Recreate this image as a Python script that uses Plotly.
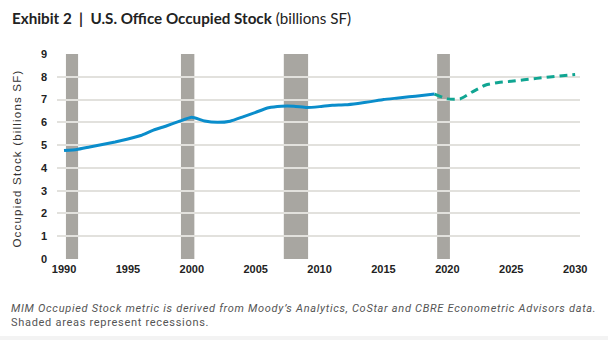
import plotly.graph_objects as go

# Data
hist_years = list(range(1990, 2020))
hist_values = [4.76, 4.81, 4.92, 5.03, 5.14, 5.27, 5.42, 5.66, 5.84, 6.04,
               6.22, 6.06, 6.00, 6.05, 6.24, 6.44, 6.64, 6.71, 6.71, 6.65,
               6.69, 6.75, 6.77, 6.83, 6.91, 7.00, 7.06, 7.12, 7.18, 7.24]
fcst_years = list(range(2019, 2031))
fcst_values = [7.24, 7.03, 7.03, 7.35, 7.64, 7.75, 7.80, 7.87, 7.93, 7.99, 8.05, 8.10]
recession_start = [1990.15, 1999.15, 2007.2, 2019.2]
recession_end = [1991.1, 2000.2, 2009.1, 2020.2]
recession_top = 9
x_ticks = [1990, 1995, 2000, 2005, 2010, 2015, 2020, 2025, 2030]
y_ticks = list(range(0, 10))

fig = go.Figure()

# recession bars
for s, e in zip(recession_start, recession_end):
    fig.add_shape(type="rect", xref="x", yref="y", x0=s, x1=e, y0=0, y1=recession_top,
                  fillcolor="#a8a6a1", line=dict(width=0), layer="below")

fig.add_trace(go.Scatter(x=hist_years, y=hist_values, mode="lines",
                         line=dict(color="#0a8dcb", width=3, shape="spline", smoothing=0.4),
                         showlegend=False, hoverinfo="skip"))
fig.add_trace(go.Scatter(x=fcst_years, y=fcst_values, mode="lines",
                         line=dict(color="#10a592", width=3, dash="8px,5px", shape="spline", smoothing=0.5),
                         showlegend=False, hoverinfo="skip"))

fig.update_layout(
    width=608, height=340,
    margin=dict(l=57, r=28, t=54, b=81),
    paper_bgcolor="white", plot_bgcolor="white",
    font=dict(family="Liberation Sans, Arial, sans-serif", color="#222"),
    xaxis=dict(range=[1989.45, 2030.38], tickvals=x_ticks, ticktext=[f"<b>{t}</b>" for t in x_ticks],
               showgrid=False, zeroline=False, showline=False, ticks="",
               tickfont=dict(size=11, color="#222", family="Liberation Sans, Arial"),
               ticklabelstandoff=2),
    yaxis=dict(range=[0, 9], tickvals=y_ticks, ticktext=[f"<b>{t}</b>" for t in y_ticks],
               showgrid=True, gridcolor="#e2e1dd", gridwidth=1.5,
               zeroline=False, showline=False, ticks="",
               tickfont=dict(size=11, color="#222", family="Liberation Sans, Arial"),
               ticklabelstandoff=9),
    annotations=[
        dict(text="<b>Exhibit 2  |  U.S. Office Occupied Stock</b> (billions SF)",
             xref="paper", yref="paper", x=(10 - 57) / 523, y=1 + (54 - 18) / 205,
             xanchor="left", yanchor="middle", showarrow=False,
             font=dict(family="Lato, sans-serif", size=15.2, color="#222")),
        dict(text="<span style='letter-spacing:1.2px'>Occupied Stock (billions SF)</span>", textangle=-90,
             xref="paper", yref="paper", x=(17 - 57) / 523, y=0.49,
             xanchor="center", yanchor="middle", showarrow=False,
             font=dict(family="Liberation Sans, Arial", size=11.5, color="#333")),
        dict(text="<span style='letter-spacing:0.7px'><i>MIM Occupied Stock metric is derived from Moody\u2019s Analytics, CoStar and CBRE Econometric Advisors data.</i></span>",
             xref="paper", yref="paper", x=(9 - 57) / 523, y=-(308 - 259) / 205,
             xanchor="left", yanchor="middle", showarrow=False,
             font=dict(family="Roboto, sans-serif", size=11, color="#555")),
        dict(text="<span style='letter-spacing:0.7px'>Shaded areas represent recessions.</span>",
             xref="paper", yref="paper", x=(9 - 57) / 523, y=-(322 - 259) / 205,
             xanchor="left", yanchor="middle", showarrow=False,
             font=dict(family="Roboto, sans-serif", size=11, color="#555")),
    ],
)
fig.add_shape(type="rect", xref="paper", yref="paper", x0=-57 / 523, x1=1 + 28 / 523,
              y0=-(340 - 259) / 205, y1=-(336 - 259) / 205, fillcolor="#f3f3f3", line=dict(width=0))

fig.write_html("out.html")
